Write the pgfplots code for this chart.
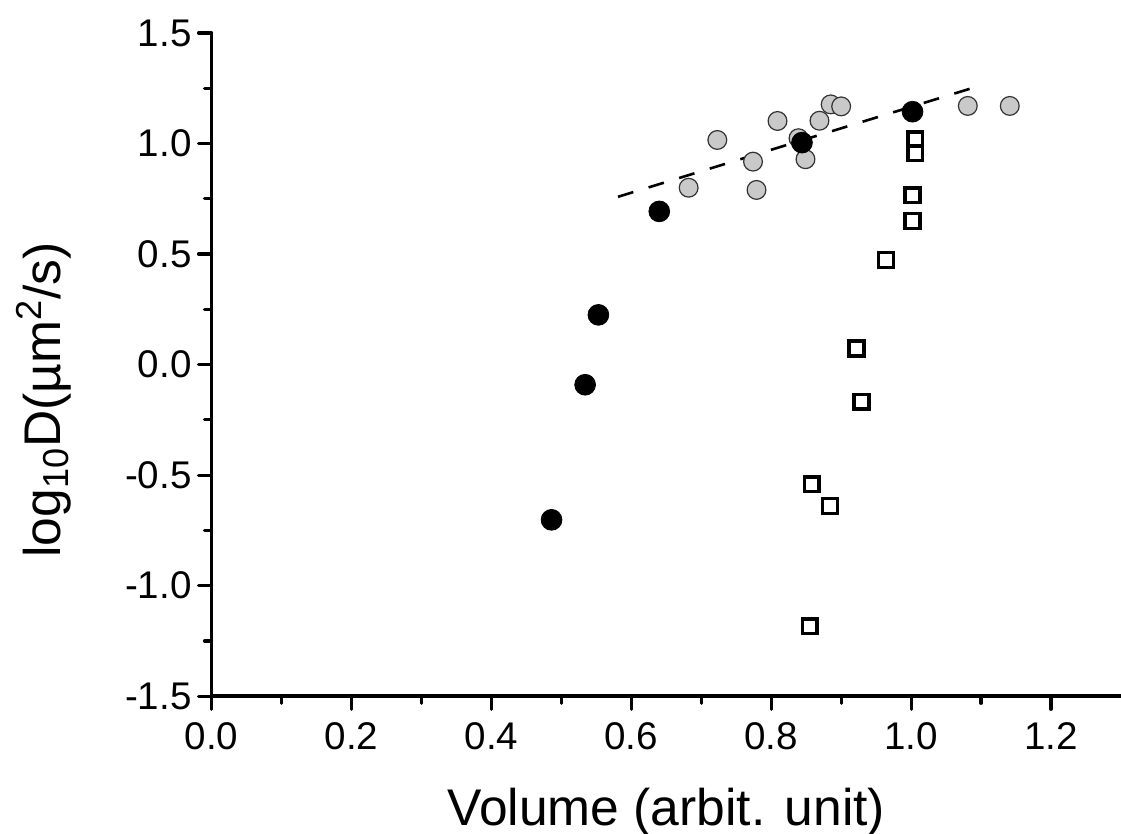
\documentclass[border=0pt]{standalone}
\usepackage{fontspec}
\setmainfont{Liberation Sans}
\usepackage{pgfplots}
\pgfplotsset{compat=1.18}
\begin{document}
\begin{tikzpicture}
\begin{axis}[
  scale only axis,
  width=455pt, height=331.85pt,
  xmin=0, xmax=1.3, ymin=-1.5, ymax=1.5,
  axis x line=bottom, axis y line=left,
  axis line style={-, line width=1.8pt},
  xtick={0,0.2,0.4,0.6,0.8,1.0,1.2},
  ytick={-1.5,-1,-0.5,0,0.5,1,1.5},
  minor xtick={0.1,0.3,0.5,0.7,0.9,1.1},
  minor ytick={-1.25,-0.75,-0.25,0.25,0.75,1.25},
  tick align=outside,
  major tick length=6.5pt, minor tick length=3.5pt,
  every tick/.style={black, line width=1.6pt, line cap=round},
  /pgf/number format/.cd, fixed, fixed zerofill, precision=1, assume math mode=true,
  /pgfplots/.cd,
  tick label style={font=\fontsize{19.3}{23}\selectfont},
  xticklabel style={yshift=-3pt},
  xlabel={Volume (arbit. unit)},
  ylabel={log\textsubscript{10}D(µm\textsuperscript{2}/s)},
  label style={font=\fontsize{25.8}{30}\selectfont},
  xlabel style={at={(axis description cs:0.5,0)}, anchor=base, yshift=-64.6pt},
  ylabel style={at={(axis description cs:-0.1666,0.447)}, anchor=base, rotate=0},
  clip=false,
]
\coordinate (bl) at (rel axis cs:-0.2326,-0.2069);
\coordinate (tr) at (rel axis cs:1,1.0497);
% gray circles
\addplot[only marks, mark=*, mark size=4.7pt, mark options={fill=black!21, draw=black!80, line width=0.6pt}] coordinates {
(0.682,0.800) (0.723,1.016) (0.774,0.918) (0.779,0.790) (0.809,1.102) (0.839,1.024)
(0.849,0.929) (0.869,1.103) (0.885,1.177) (0.900,1.168) (1.081,1.170) (1.141,1.170)
};
% dashed fit line
\addplot[black, line width=1.3pt, dash pattern=on 8pt off 8pt] coordinates {(0.581,0.759) (1.102,1.265)};
% black circles
\addplot[only marks, mark=*, mark size=5.2pt, mark options={fill=black, draw=black, line width=0.4pt}] coordinates {
(0.486,-0.702) (0.534,-0.091) (0.553,0.225) (0.640,0.693) (0.844,1.004) (1.002,1.144)
};
% open squares
\addplot[only marks, mark=square, mark size=3.7pt, mark options={draw=black, line width=1.75pt}] coordinates {
(1.006,1.019) (1.006,0.956) (1.002,0.766) (1.002,0.649) (0.964,0.473) (0.922,0.073)
(0.929,-0.168) (0.858,-0.541) (0.884,-0.640) (0.855,-1.183)
};
\end{axis}
\pgfresetboundingbox
\path[use as bounding box] (bl) rectangle (tr);
\end{tikzpicture}
\end{document}
